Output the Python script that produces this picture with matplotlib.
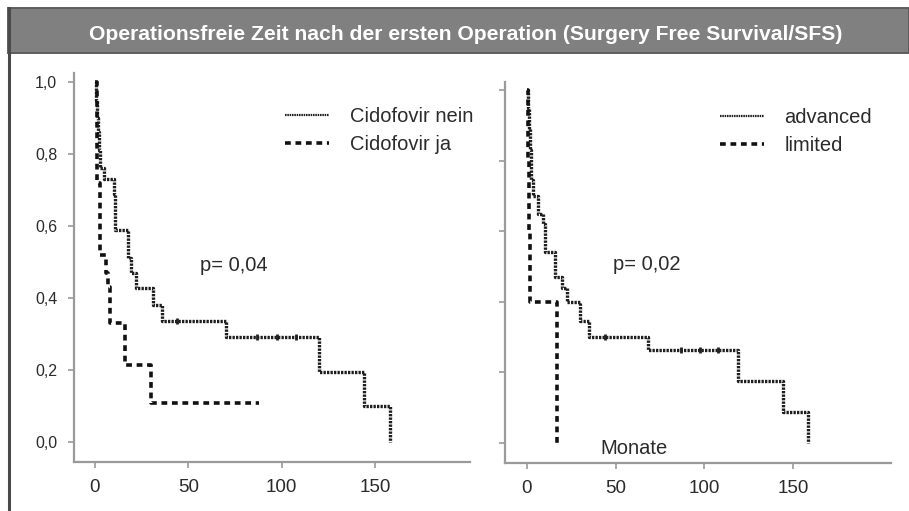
import numpy as np
import matplotlib
matplotlib.use("Agg")
import matplotlib.pyplot as plt
from matplotlib.patches import Rectangle
from matplotlib.lines import Line2D

plt.rcParams['font.family'] = ['Liberation Sans', 'DejaVu Sans']

# ---- data (months, survival fraction) ----
title = "Operationsfreie Zeit nach der ersten Operation (Surgery Free Survival/SFS)"

nein_t = [0, 0.5, 1, 1.5, 2, 3, 5, 10, 11, 18, 19.6, 22, 31, 36, 70, 120, 144, 158]
nein_s = [1.0, 0.95, 0.90, 0.86, 0.81, 0.76, 0.73, 0.69, 0.59, 0.51, 0.47, 0.428, 0.38, 0.336, 0.29, 0.195, 0.10, 0.0]
nein_cens = [44, 87, 97.5, 108]

ja_t = [0, 1, 2.5, 6, 7, 8, 16, 30, 88]
ja_s = [1.0, 0.72, 0.52, 0.47, 0.43, 0.33, 0.213, 0.107, 0.107]

adv_t = [0, 0.5, 1, 1.5, 2, 3.4, 6.3, 9, 10, 15.8, 19.6, 22.4, 30, 35, 68, 119, 144.5, 158.5]
adv_s = [1.0, 0.95, 0.89, 0.83, 0.745, 0.70, 0.65, 0.62, 0.54, 0.47, 0.44, 0.40, 0.345, 0.30, 0.263, 0.176, 0.088, 0.0]
adv_cens = [44, 87, 97.6, 108]

lim_t = [0, 0.5, 1, 1.7, 17]
lim_s = [1.0, 0.8, 0.6, 0.4, 0.0]

left_labels = ["Cidofovir nein", "Cidofovir ja"]
right_labels = ["advanced", "limited"]
p_left = "p= 0,04"
p_right = "p= 0,02"
xlabel_text = "Monate"
xticks = [0, 50, 100, 150]
yticks = [0.0, 0.2, 0.4, 0.6, 0.8, 1.0]
ytick_labels = ["0,0", "0,2", "0,4", "0,6", "0,8", "1,0"]

W, H = 909, 511
fig = plt.figure(figsize=(W / 100, H / 100), dpi=100)
fig.patch.set_facecolor('white')

# banner
fig.patches.append(Rectangle((8 / W, 1 - 53 / H), 1 - 8 / W, 45 / H, transform=fig.transFigure,
                             facecolor='#808080', edgecolor='#5e5e5e', lw=1.4, zorder=0))
fig.text(466 / W, 1 - 34 / H, title, color='white', fontsize=15.2, fontweight='bold',
         ha='center', va='center')
fig.add_artist(Line2D([8.5 / W, 8.5 / W], [0, 1 - 8 / H], transform=fig.transFigure,
                      color='#4a4a4a', lw=2.2))

dot_style = dict(color='#1e1e1e', lw=2.4, linestyle=(0, (0.7, 0.35)))
dash_style = dict(color='#111111', lw=2.6, linestyle=(0, (1.6, 1.3)))
TXT = '#2b2b2b'


def cens_y(t, s, c):
    idx = np.searchsorted(np.asarray(t), np.asarray(c), side='right') - 1
    return np.asarray(s)[idx]


def style_axes(ax, show_ylabels):
    for sp in ['top', 'right']:
        ax.spines[sp].set_visible(False)
    for sp in ['left', 'bottom']:
        ax.spines[sp].set_color('#9a9a9a')
        ax.spines[sp].set_linewidth(1.6)
    ax.set_xticks(xticks)
    ax.set_xticklabels([str(v) for v in xticks], fontsize=13.5, color=TXT)
    ax.set_yticks(yticks)
    if show_ylabels:
        ax.set_yticklabels(ytick_labels, fontsize=11.5, color=TXT)
    else:
        ax.set_yticklabels([])
    ax.tick_params(axis='both', direction='out', length=4, width=1.2, color='#9a9a9a', pad=8)


# left panel
axL = fig.add_axes([74 / W, 1 - 462 / H, 396 / W, 389 / H])
axL.set_xlim(-11.2, 201)
axL.set_ylim(-0.056, 1.025)
l1, = axL.step(nein_t, nein_s, where='post', **dot_style)
l2, = axL.step(ja_t, ja_s, where='post', **dash_style)
axL.plot(nein_cens, cens_y(nein_t, nein_s, nein_cens), linestyle='none', marker='|',
         ms=5, mew=2, color='#222222')
style_axes(axL, True)
legL = axL.legend([l1, l2], left_labels, loc='upper left', bbox_to_anchor=(0.533, 0.912),
                  frameon=False, fontsize=14.5, handlelength=2.2, handletextpad=1.0,
                  borderpad=0, borderaxespad=0, labelspacing=0.45, labelcolor=TXT)
legL.get_lines()[0].set_linewidth(1.6)
axL.text(0.318, 0.506, p_left, transform=axL.transAxes, fontsize=14.5, color=TXT,
         ha='left', va='center')

# right panel
axR = fig.add_axes([505 / W, 1 - 463 / H, 386 / W, 381 / H])
axR.set_xlim(-12.4, 205.3)
axR.set_ylim(-0.057, 1.023)
r1, = axR.step(adv_t, adv_s, where='post', **dot_style)
r2, = axR.step(lim_t, lim_s, where='post', **dash_style)
axR.plot(adv_cens, cens_y(adv_t, adv_s, adv_cens), linestyle='none', marker='|',
         ms=5, mew=2, color='#222222')
style_axes(axR, False)
legR = axR.legend([r1, r2], right_labels, loc='upper left', bbox_to_anchor=(0.557, 0.932),
                  frameon=False, fontsize=14.5, handlelength=2.2, handletextpad=1.0,
                  borderpad=0, borderaxespad=0, labelspacing=0.45, labelcolor=TXT)
legR.get_lines()[0].set_linewidth(1.6)
axR.text(0.280, 0.520, p_right, transform=axR.transAxes, fontsize=14.5, color=TXT,
         ha='left', va='center')
axR.text(0.246, 0.039, xlabel_text, transform=axR.transAxes, fontsize=14.5, color=TXT,
         ha='left', va='center')

fig.savefig('out.png', dpi=100)
